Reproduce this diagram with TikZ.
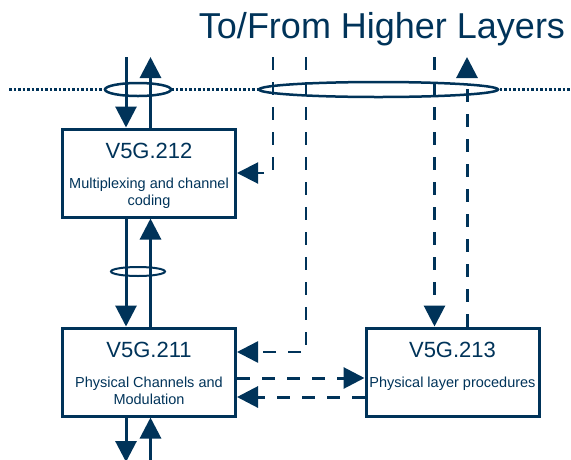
\documentclass[tikz,border=0pt]{standalone}
\usepackage{fontspec}
\setmainfont{Liberation Sans}
\usepackage{xcolor}
\usetikzlibrary{arrows.meta, positioning}
\definecolor{layerblue}{RGB}{0,51,89}

\begin{document}
\begin{tikzpicture}[x=1pt, y=-1pt, layerblue,
  >={Triangle[length=21pt, width=21pt]},
  blk/.style={draw=layerblue, line width=3pt, minimum width=173pt,
    minimum height=88pt, inner sep=0pt},
  hdr/.style={font=\fontsize{22}{26}\selectfont, anchor=base, inner sep=0pt},
  sub/.style={font=\fontsize{14.5}{17}\selectfont, align=center,
    anchor=base, inner sep=0pt},
  sig/.style={->, line width=3pt},
  ctl/.style={->, line width=3pt, dash pattern=on 13pt off 12pt},
  ring/.style={draw, fill=white, line width=2.5pt}]
  \useasboundingbox (0,0) rectangle (571,459);
  % title
  \node[font=\fontsize{36}{40}\selectfont, anchor=base, inner sep=0pt]
    (title) at (382,38) {To/From Higher Layers};
  % layer boundary with the two bundles
  \draw[line width=3pt, dash pattern=on 2.5pt off 2pt] (9,89) -- (571,89);
  \draw[ring] (138,89.5) ellipse [x radius=33, y radius=6.5];
  \draw[ring] (378.5,89.5) ellipse [x radius=119.5, y radius=7.5];
  \draw[ring, line width=2pt] (138,271.5) ellipse [x radius=27, y radius=4.5];
  % blocks
  \node[blk] (b212) at (149,173) {};
  \node[blk] (b211) at (149,372) {};
  \node[blk] (b213) at (452.5,372) {};
  \node[hdr] (t212) at ([yshift=-31pt]b212.north) {V5G.212};
  \node[hdr] (t211) at ([yshift=-31pt]b211.north) {V5G.211};
  \node[hdr] (t213) at ([yshift=-31pt]b213.north) {V5G.213};
  % two-line texts sit on their last line
  \node[sub] (s212) at ([yshift=-78pt]b212.north) {Multiplexing and channel\\coding};
  \node[sub] (s211) at ([yshift=-78pt]b211.north) {Physical Channels and\\Modulation};
  \node[sub] (s213) at ([yshift=-61pt]b213.north) {Physical layer procedures};
  % data path
  \coordinate (dntop) at (126,57);
  \coordinate (uptop) at (150.5,57);
  \coordinate (dnbot) at (126,462);
  \coordinate (upbot) at (150.5,462);
  \draw[sig] (dntop) -- (dntop |- b212.north);
  \draw[sig] (uptop |- b212.north) -- (uptop);
  \draw[sig] (dntop |- b212.south) -- (dntop |- b211.north);
  \draw[sig] (uptop |- b211.north) -- (uptop |- b212.south);
  \draw[sig] (dntop |- b211.south) -- (dnbot);
  \draw[sig] (upbot) -- (uptop |- b211.south);
  % control path
  \coordinate (ctla) at (273,57);
  \coordinate (ctlb) at (306,57);
  \coordinate (ctlc) at (434.5,57);
  \coordinate (ctld) at (467,57);
  \draw[ctl, line width=2pt] (ctla) |- (b212.east);
  \draw[ctl, line width=2.5pt] (ctlb) |- ([yshift=20pt]b211.east);
  \draw[ctl] (ctlc) -- (ctlc |- b213.north);
  \draw[ctl] (ctld |- b213.north) -- (ctld);
  \draw[ctl] ([yshift=-6pt]b211.east) -- ([yshift=-6pt]b213.west);
  \draw[ctl] ([yshift=-25pt]b213.west) -- ([yshift=-25pt]b211.east);
\end{tikzpicture}
\end{document}
